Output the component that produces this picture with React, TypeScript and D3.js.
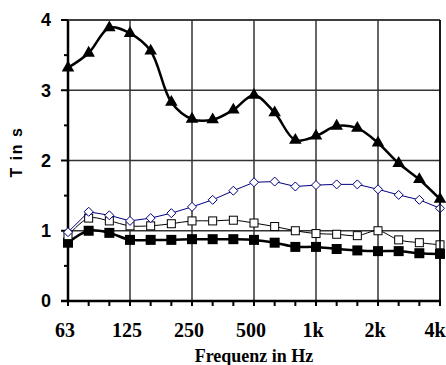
import * as d3 from "d3";
import React from "react";

const freqs = ["63", "80", "100", "125", "160", "200", "250", "315", "400", "500", "630", "800", "1000", "1250", "1600", "2000", "2500", "3150", "4000"];
const tickLabels = ["63", "125", "250", "500", "1k", "2k", "4k"];
const octaves = ["63", "125", "250", "500", "1000", "2000", "4000"];

const triangleVals = [3.32, 3.53, 3.89, 3.81, 3.56, 2.83, 2.59, 2.58, 2.72, 2.93, 2.68, 2.29, 2.35, 2.49, 2.46, 2.25, 1.96, 1.73, 1.45];
const diamondVals = [0.98, 1.27, 1.22, 1.14, 1.18, 1.25, 1.34, 1.44, 1.57, 1.69, 1.7, 1.63, 1.65, 1.66, 1.66, 1.59, 1.51, 1.44, 1.32];
const openSquareVals = [0.93, 1.18, 1.14, 1.07, 1.07, 1.1, 1.14, 1.14, 1.15, 1.11, 1.06, 1.0, 0.96, 0.95, 0.93, 1.0, 0.87, 0.83, 0.8];
const filledSquareVals = [0.83, 1.0, 0.97, 0.87, 0.87, 0.87, 0.88, 0.88, 0.88, 0.87, 0.83, 0.77, 0.77, 0.74, 0.72, 0.71, 0.71, 0.68, 0.67];

const yTicks = [0, 1, 2, 3, 4];
const yMinor = [0.5, 1.5, 2.5, 3.5];

const sans = "'Liberation Sans', Arial, sans-serif";
const serif = "'Liberation Serif', 'DejaVu Serif', serif";

const App: React.FC = () => {
  const ml = 68, mr = 440, mt = 20, mb = 301;
  const x = d3.scalePoint<string>().domain(freqs).range([ml, mr]);
  const y = d3.scaleLinear().domain([0, 4]).range([mb, mt]);

  const smooth = d3.line<number>()
    .x((_, i) => x(freqs[i]) as number)
    .y(d => y(d))
    .curve(d3.curveCatmullRom.alpha(0.5));
  const straight = d3.line<number>()
    .x((_, i) => x(freqs[i]) as number)
    .y(d => y(d));

  const tri = d3.symbol(d3.symbolTriangle, 68);

  return (
    <svg width={446} height={365} style={{ position: "absolute", left: 0, top: 0, background: "white" }}>
      {/* grid */}
      {octaves.slice(1).map(f =>
        <line key={"gx" + f} x1={x(f)} x2={x(f)} y1={mt} y2={mb} stroke="#333" strokeWidth={1.5} />)}
      {yTicks.slice(1).map(t =>
        <line key={"gy" + t} x1={ml} x2={mr} y1={y(t)} y2={y(t)} stroke="#333" strokeWidth={1.5} />)}

      {/* axes */}
      <line x1={ml} x2={ml} y1={mt} y2={mb} stroke="black" strokeWidth={2.5} />
      <line x1={ml - 7} x2={mr + 1} y1={mb} y2={mb} stroke="black" strokeWidth={2.5} />
      {yTicks.map(t =>
        <line key={"yt" + t} x1={ml - 7} x2={ml} y1={y(t)} y2={y(t)} stroke="black" strokeWidth={2} />)}
      {yMinor.map(t =>
        <line key={"ym" + t} x1={ml - 4} x2={ml} y1={y(t)} y2={y(t)} stroke="black" strokeWidth={2} />)}
      {freqs.map(f =>
        <line key={"xt" + f} x1={x(f)} x2={x(f)} y1={mb} y2={mb + 5} stroke="black" strokeWidth={2} />)}

      {/* y labels */}
      {yTicks.map(t =>
        <text key={"yl" + t} x={51} y={y(t)} dy="0.36em" textAnchor="end"
          fontFamily={sans} fontWeight="bold" fontSize={18}>{t}</text>)}
      <text transform="translate(22,152) rotate(-90)" textAnchor="middle"
        fontFamily={sans} fontWeight="bold" fontSize={16} letterSpacing={1.5}>T in s</text>

      {/* x labels */}
      {octaves.map((f, i) =>
        <text key={"xl" + f} x={Math.min((x(f) as number) - 3, 435)} y={337} textAnchor="middle"
          fontFamily={serif} fontWeight="bold" fontSize={20}>{tickLabels[i]}</text>)}
      <text x={254} y={362} textAnchor="middle"
        fontFamily={serif} fontWeight="bold" fontSize={18}>Frequenz in Hz</text>

      {/* filled squares */}
      <path d={smooth(filledSquareVals) || ""} fill="none" stroke="black" strokeWidth={2.5} />
      {filledSquareVals.map((v, i) =>
        <rect key={"fs" + i} x={(x(freqs[i]) as number) - 5} y={y(v) - 5} width={10} height={10} fill="black" />)}

      {/* open squares */}
      <path d={smooth(openSquareVals) || ""} fill="none" stroke="black" strokeWidth={1} />
      {openSquareVals.map((v, i) =>
        <rect key={"os" + i} x={(x(freqs[i]) as number) - 4} y={y(v) - 4} width={8} height={8} fill="white" stroke="black" strokeWidth={1} />)}

      {/* diamonds */}
      <path d={straight(diamondVals) || ""} fill="none" stroke="#000080" strokeWidth={1} />
      {diamondVals.map((v, i) =>
        <path key={"dm" + i} d="M0,-4.5L4.5,0L0,4.5L-4.5,0Z"
          transform={`translate(${x(freqs[i])},${y(v)})`} fill="white" stroke="#000080" strokeWidth={1} />)}

      {/* triangles */}
      <path d={smooth(triangleVals) || ""} fill="none" stroke="black" strokeWidth={2.5} />
      {triangleVals.map((v, i) =>
        <path key={"tr" + i} d={tri() || ""}
          transform={`translate(${x(freqs[i])},${y(v)})`} fill="black" />)}

      {/* top / right frame */}
      <line x1={ml} x2={mr} y1={mt} y2={mt} stroke="#333" strokeWidth={1.5} />
      <line x1={mr} x2={mr} y1={mt} y2={mb} stroke="black" strokeWidth={1.5} />
    </svg>
  );
};

export default App;
